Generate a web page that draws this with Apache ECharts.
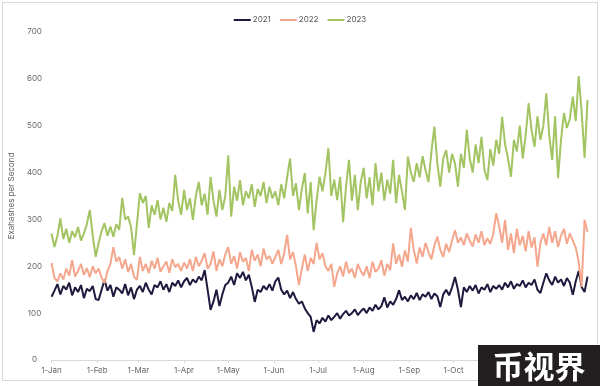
<!DOCTYPE html>
<html>
<head>
<meta charset="utf-8">
<script src="https://cdn.jsdelivr.net/npm/echarts@6/dist/echarts.min.js"></script>
<style>
html,body{margin:0;padding:0;background:#fff;}
#chart{width:600px;height:386px;}
</style>
</head>
<body>
<div id="chart"></div>
<script>
// Tick positions (day of year) and labels
const monthStarts = [0, 31, 59, 90, 120, 151, 181, 212, 243, 273, 304, 334];
const monthLabels = ['1-Jan','1-Feb','1-Mar','1-Apr','1-May','1-Jun','1-Jul','1-Aug','1-Sep','1-Oct','1-Nov','1-Dec'];
const seriesNames = ['2021', '2022', '2023'];
const sampleStep = 2; // one reading every 2 days, starting 1-Jan

// Exahashes per second, read every 2 days
const y2021 = [
  135,148,162,140,158,150,165,138,155,145,160,132,152,147,158,130,
  128,150,171,148,160,135,155,150,142,162,138,155,130,150,
  158,145,165,150,140,160,155,168,150,162,145,165,158,170,155,
  168,175,160,172,165,178,170,192,150,107,125,150,115,140,160,
  165,178,160,185,175,188,170,182,156,124,150,145,158,150,162,148,
  168,176,150,140,148,132,145,130,120,125,110,100,92,60,85,
  78,90,82,95,85,92,100,88,98,105,95,100,108,96,104,
  110,100,112,105,118,108,115,134,112,125,118,130,149,128,135,125,
  138,130,143,128,140,135,145,130,142,136,113,140,150,138,155,
  177,150,113,155,145,158,148,160,142,155,150,162,145,158,152,
  160,150,165,155,168,152,162,158,170,155,165,160,172,150,143,
  165,185,170,160,178,165,172,158,175,165,139,168,190,156,145,178
];
const y2022 = [
  207,175,168,185,172,195,180,213,178,190,205,182,196,177,200,185,
  195,176,164,190,205,241,210,220,195,215,188,205,178,171,
  220,190,205,185,212,195,218,188,200,210,186,215,198,205,190,
  208,195,215,190,220,200,212,228,195,205,232,190,215,200,225,
  241,205,222,195,230,210,218,190,235,212,225,200,238,215,222,205,
  220,235,205,228,267,215,230,200,160,195,225,190,218,205,250,
  215,228,200,190,205,156,185,200,178,210,185,195,175,205,190,
  180,200,175,210,188,195,213,180,205,192,249,205,225,199,234,210,
  282,235,206,240,220,250,230,215,245,263,235,220,248,230,255,
  277,250,262,245,270,255,242,268,250,275,245,260,248,270,313,
  285,250,299,235,270,228,280,245,265,232,275,240,262,199,250,
  270,245,284,250,275,241,265,280,248,270,255,240,210,156,299,273
];
const y2023 = [
  270,241,265,302,258,280,250,275,262,284,255,270,290,320,265,220,
  250,275,292,265,285,263,290,278,346,300,306,284,224,290,
  356,335,350,282,330,310,341,300,325,295,335,318,395,340,310,
  363,320,345,299,350,380,330,355,310,391,340,306,363,320,350,
  437,306,370,340,384,330,360,345,375,327,365,350,380,335,370,345,
  360,330,375,345,390,430,350,377,320,365,399,313,380,277,340,
  391,360,399,452,350,385,341,391,294,370,427,340,395,320,380,
  410,345,390,330,420,360,400,340,385,355,427,335,395,360,320,434,
  400,380,420,390,435,405,380,445,498,420,370,430,448,400,440,
  420,370,440,410,491,430,400,460,420,476,405,384,450,415,470,
  440,519,460,430,391,470,445,500,430,480,548,490,455,520,470,
  500,569,480,427,520,388,470,527,495,515,562,510,606,530,431,555
];
const colors = ['#1d1a3e', '#f5a78d', '#a3c462'];

function pairs(values) {
  return values.map((v, i) => [i * sampleStep, v]);
}

const chart = echarts.init(document.getElementById('chart'), null, {renderer: 'canvas'});
const font = 'Inter';
chart.setOption({
  animation: false,
  backgroundColor: '#ffffff',
  textStyle: {fontFamily: font},
  legend: {
    top: 11,
    left: 'center',
    itemWidth: 17,
    itemHeight: 2,
    itemGap: 9,
    icon: 'rect',
    textStyle: {fontSize: 8, color: '#595959', fontFamily: font, padding: [0,0,0,-3]},
    data: seriesNames
  },
  grid: {left: 50, right: 11, top: 32, bottom: 26},
  xAxis: {
    type: 'value',
    min: 0,
    max: 365,
    splitLine: {show: false},
    axisLine: {show: true, lineStyle: {color: '#d9d9d9', width: 1}},
    axisTick: {show: true, length: 3, lineStyle: {color: '#d9d9d9'}, customValues: monthStarts},
    axisLabel: {
      customValues: monthStarts,
      formatter: function (v) { return monthLabels[monthStarts.indexOf(v)]; },
      fontSize: 8, color: '#666666', margin: 7, fontFamily: font
    }
  },
  yAxis: {
    type: 'value',
    min: 0,
    max: 700,
    interval: 100,
    name: 'Exahashes per Second',
    nameLocation: 'middle',
    nameGap: 26,
    nameTextStyle: {fontSize: 8, color: '#595959', fontFamily: font},
    splitLine: {show: false},
    axisLine: {show: false},
    axisTick: {show: false},
    axisLabel: {fontSize: 8, color: '#666666', align: 'center', margin: 17, fontFamily: font}
  },
  series: [
    {name: seriesNames[0], type: 'line', data: pairs(y2021), showSymbol: false, color: colors[0], lineStyle: {width: 2}},
    {name: seriesNames[1], type: 'line', data: pairs(y2022), showSymbol: false, color: colors[1], lineStyle: {width: 2}},
    {name: seriesNames[2], type: 'line', data: pairs(y2023), showSymbol: false, color: colors[2], lineStyle: {width: 2}}
  ],
  graphic: [
    {type: 'rect', z: -10, silent: true, shape: {x: 2.5, y: 2.5, width: 595, height: 378},
     style: {fill: null, stroke: '#d9d9d9', lineWidth: 1}},
    {type: 'rect', z: 100, shape: {x: 478, y: 345, width: 122, height: 41}, style: {fill: '#231f20'}},
    {type: 'text', z: 101, style: {text: '币视界', x: 539, y: 366, fill: '#ffffff',
      font: 'bold 31px "Noto Sans CJK SC"', align: 'center', verticalAlign: 'middle'}}
  ]
});
</script>
</body>
</html>
